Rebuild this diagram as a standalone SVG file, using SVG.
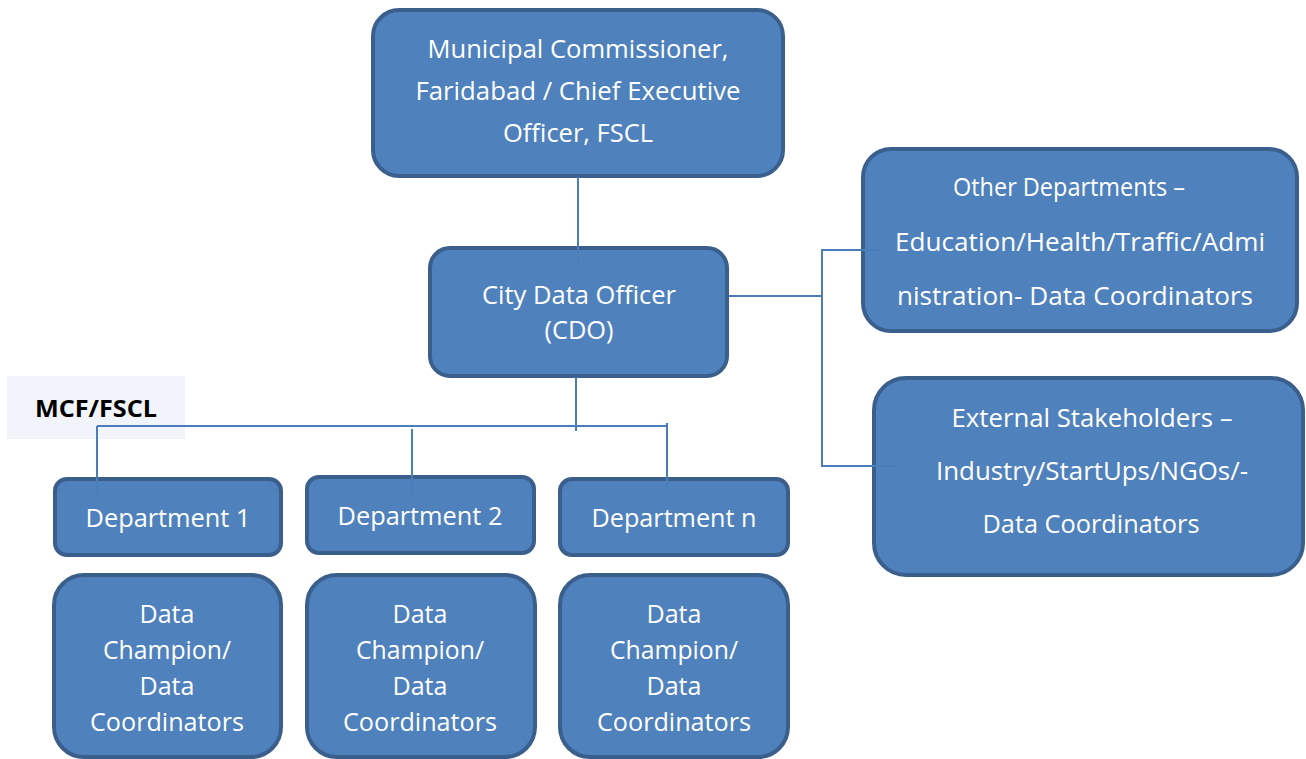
<svg xmlns="http://www.w3.org/2000/svg" width="1306" height="759" viewBox="0 0 1306 759">
<style>
.box{fill:#4F81BD;stroke:#3A5F8D;stroke-width:4}
.t{font-family:"Open Sans","Liberation Sans",sans-serif;font-size:25px;fill:#FFFFFF;text-anchor:middle}
.c{fill:none;stroke:#4A7EBB;stroke-width:2}
.lbl{font-family:"Open Sans","Liberation Sans",sans-serif;font-size:24px;font-weight:bold;fill:#000000}
</style>
<rect width="1306" height="759" fill="#FFFFFF"/>
<g id="mcf-label">
<rect x="7" y="376" width="178" height="63" fill="#F1F4FA"/>
<text class="lbl" x="35" y="417" textLength="122" lengthAdjust="spacingAndGlyphs">MCF/FSCL</text>
</g>
<g id="commissioner">
<rect class="box" x="373" y="10" width="410" height="166" rx="26"/>
<text class="t" x="578" y="58" textLength="301" lengthAdjust="spacingAndGlyphs">Municipal Commissioner,</text>
<text class="t" x="578" y="100" textLength="325" lengthAdjust="spacingAndGlyphs">Faridabad / Chief Executive</text>
<text class="t" x="578" y="142" textLength="150" lengthAdjust="spacingAndGlyphs">Officer, FSCL</text>
</g>
<g id="cdo">
<rect class="box" x="430" y="248" width="297" height="128" rx="20"/>
<text class="t" x="579" y="304" textLength="194" lengthAdjust="spacingAndGlyphs">City Data Officer</text>
<text class="t" x="579" y="339" textLength="69" lengthAdjust="spacingAndGlyphs">(CDO)</text>
</g>
<g id="other-departments">
<rect class="box" x="863" y="149" width="434" height="182" rx="28"/>
<text class="t" x="1069" y="196" textLength="232" lengthAdjust="spacingAndGlyphs">Other Departments –</text>
<text class="t" x="1080" y="251" textLength="370" lengthAdjust="spacingAndGlyphs">Education/Health/Traffic/Admi</text>
<text class="t" x="1075" y="305" textLength="356" lengthAdjust="spacingAndGlyphs">nistration- Data Coordinators</text>
</g>
<g id="external-stakeholders">
<rect class="box" x="874" y="378" width="429" height="197" rx="32"/>
<text class="t" x="1092" y="427" textLength="281" lengthAdjust="spacingAndGlyphs">External Stakeholders –</text>
<text class="t" x="1092" y="480" textLength="312" lengthAdjust="spacingAndGlyphs">Industry/StartUps/NGOs/-</text>
<text class="t" x="1091" y="533" textLength="217" lengthAdjust="spacingAndGlyphs">Data Coordinators</text>
</g>
<g id="department-1">
<rect class="box" x="55" y="479" width="226" height="76" rx="12"/>
<text class="t" x="168" y="527" textLength="165" lengthAdjust="spacingAndGlyphs">Department 1</text>
</g>
<g id="department-2">
<rect class="box" x="307" y="477" width="227" height="76" rx="12"/>
<text class="t" x="420" y="525" textLength="165" lengthAdjust="spacingAndGlyphs">Department 2</text>
</g>
<g id="department-n">
<rect class="box" x="560" y="479" width="228" height="76" rx="12"/>
<text class="t" x="674" y="527" textLength="165" lengthAdjust="spacingAndGlyphs">Department n</text>
</g>
<g id="data-champion-1">
<rect class="box" x="54" y="575" width="227" height="182" rx="30"/>
<text class="t" x="167" y="623" textLength="55" lengthAdjust="spacingAndGlyphs">Data</text>
<text class="t" x="167" y="659" textLength="128" lengthAdjust="spacingAndGlyphs">Champion/</text>
<text class="t" x="167" y="695" textLength="55" lengthAdjust="spacingAndGlyphs">Data</text>
<text class="t" x="167" y="731" textLength="154" lengthAdjust="spacingAndGlyphs">Coordinators</text>
</g>
<g id="data-champion-2">
<rect class="box" x="307" y="575" width="228" height="182" rx="30"/>
<text class="t" x="420" y="623" textLength="55" lengthAdjust="spacingAndGlyphs">Data</text>
<text class="t" x="420" y="659" textLength="128" lengthAdjust="spacingAndGlyphs">Champion/</text>
<text class="t" x="420" y="695" textLength="55" lengthAdjust="spacingAndGlyphs">Data</text>
<text class="t" x="420" y="731" textLength="154" lengthAdjust="spacingAndGlyphs">Coordinators</text>
</g>
<g id="data-champion-n">
<rect class="box" x="560" y="575" width="228" height="182" rx="30"/>
<text class="t" x="674" y="623" textLength="55" lengthAdjust="spacingAndGlyphs">Data</text>
<text class="t" x="674" y="659" textLength="128" lengthAdjust="spacingAndGlyphs">Champion/</text>
<text class="t" x="674" y="695" textLength="55" lengthAdjust="spacingAndGlyphs">Data</text>
<text class="t" x="674" y="731" textLength="154" lengthAdjust="spacingAndGlyphs">Coordinators</text>
</g>
<g id="connectors">
<line class="c" x1="578" y1="177" x2="578" y2="263"/>
<line class="c" x1="576" y1="377" x2="576" y2="431"/>
<line class="c" x1="97" y1="426" x2="667" y2="426"/>
<line class="c" x1="97" y1="426" x2="97" y2="495"/>
<line class="c" x1="412" y1="429" x2="412" y2="493"/>
<line class="c" x1="667" y1="423" x2="667" y2="487"/>
<polyline class="c" points="729,296 822,296"/>
<polyline class="c" points="880,250 822,250 822,466 895,466"/>
</g>
</svg>
